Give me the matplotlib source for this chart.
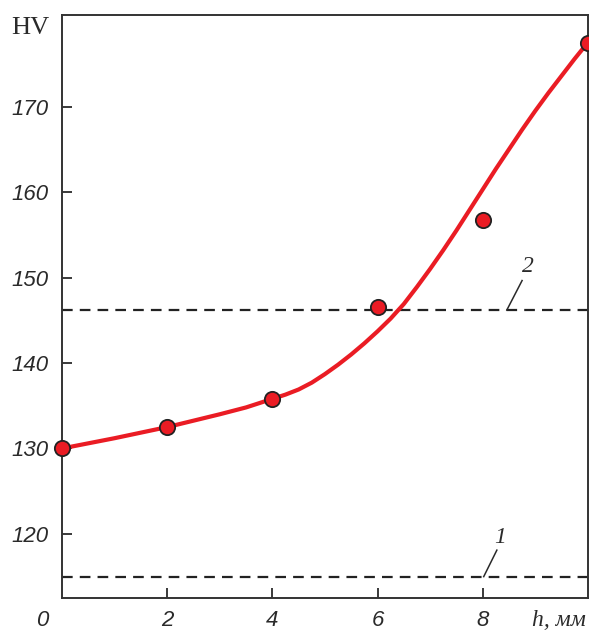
import matplotlib
matplotlib.use("Agg")
import matplotlib.pyplot as plt

# измеренные точки: глубина h (мм) и твёрдость HV
depth = [0, 2, 4, 6, 8, 10]
hardness = [130.0, 132.5, 135.8, 146.6, 156.7, 177.5]

# сглаженная кривая
curve_h = [0, 1, 2, 3, 3.5, 4, 4.25, 4.5, 4.75, 5, 5.25, 5.5, 5.75, 6,
           6.25, 6.5, 6.75, 7, 7.25, 7.5, 7.75, 8, 8.25, 8.5, 8.75, 9,
           9.25, 9.5, 9.75, 10]
curve_hv = [130.0, 131.2, 132.5, 134.0, 134.8, 135.8, 136.3, 136.9, 137.7,
            138.7, 139.8, 141.0, 142.3, 143.7, 145.2, 146.9, 148.9, 151.0,
            153.2, 155.5, 157.9, 160.3, 162.7, 165.0, 167.3, 169.5, 171.6,
            173.6, 175.6, 177.5]

# горизонтальные уровни 1 и 2
level_1 = 115.0
level_2 = 146.2

y_ticks = [120, 130, 140, 150, 160, 170]
x_ticks = [2, 4, 6, 8]

SANS = "Liberation Sans"
SERIF = "Liberation Serif"
INK = "#2a2a2a"


def main():
    fig = plt.figure(figsize=(5.89, 6.33), dpi=100)
    ax = fig.add_axes([0.1053, 0.0553, 0.8927, 0.9207])

    ax.axhline(level_1, color="#222222", lw=1.6, dashes=(4.8, 3.2))
    ax.axhline(level_2, color="#222222", lw=1.6, dashes=(4.8, 3.2))

    ax.plot(curve_h, curve_hv, color="#ea1c24", lw=3.0, solid_capstyle="round",
            solid_joinstyle="round", zorder=3)
    ax.plot(depth, hardness, "o", ms=11, mfc="#ea1c24", mec="#222222",
            mew=1.3, zorder=4, clip_on=False)

    ax.set_xlim(0, 10)
    ax.set_ylim(112.5, 180.7)

    ax.set_yticks(y_ticks)
    ax.set_yticklabels([str(t) for t in y_ticks])
    ax.set_xticks(x_ticks)
    ax.set_xticklabels([str(t) for t in x_ticks])
    ax.tick_params(direction="in", length=7, width=1.3, color=INK,
                   labelsize=16, labelcolor=INK)
    ax.tick_params(axis="y", pad=10)
    ax.tick_params(axis="x", pad=9)
    for lab in ax.get_xticklabels() + ax.get_yticklabels():
        lab.set_fontfamily(SANS)
        lab.set_fontstyle("italic")

    for sp in ax.spines.values():
        sp.set_linewidth(1.4)
        sp.set_color("#333333")

    # подписи осей
    ax.text(-0.096, 0.978, "HV", transform=ax.transAxes, fontsize=19,
            family=SERIF, color=INK, ha="left", va="center")
    ax.text(-0.038, -0.038, "0", transform=ax.transAxes, fontsize=16,
            family=SANS, style="italic", color=INK, ha="center", va="center")
    ax.text(0.945, -0.038, "h, мм", transform=ax.transAxes, fontsize=17,
            family=SERIF, style="italic", color=INK, ha="center", va="center")

    # выноски 1 и 2
    ax.plot([8.46, 8.75], [level_2, 149.65], color=INK, lw=1.1)
    ax.text(8.86, 151.3, "2", fontsize=17, family=SERIF, style="italic",
            color=INK, ha="center", va="center")
    ax.plot([8.02, 8.27], [level_1, 118.1], color=INK, lw=1.1)
    ax.text(8.33, 119.6, "1", fontsize=17, family=SERIF, style="italic",
            color=INK, ha="center", va="center")

    fig.savefig("out.png", dpi=100)


if __name__ == "__main__":
    main()
